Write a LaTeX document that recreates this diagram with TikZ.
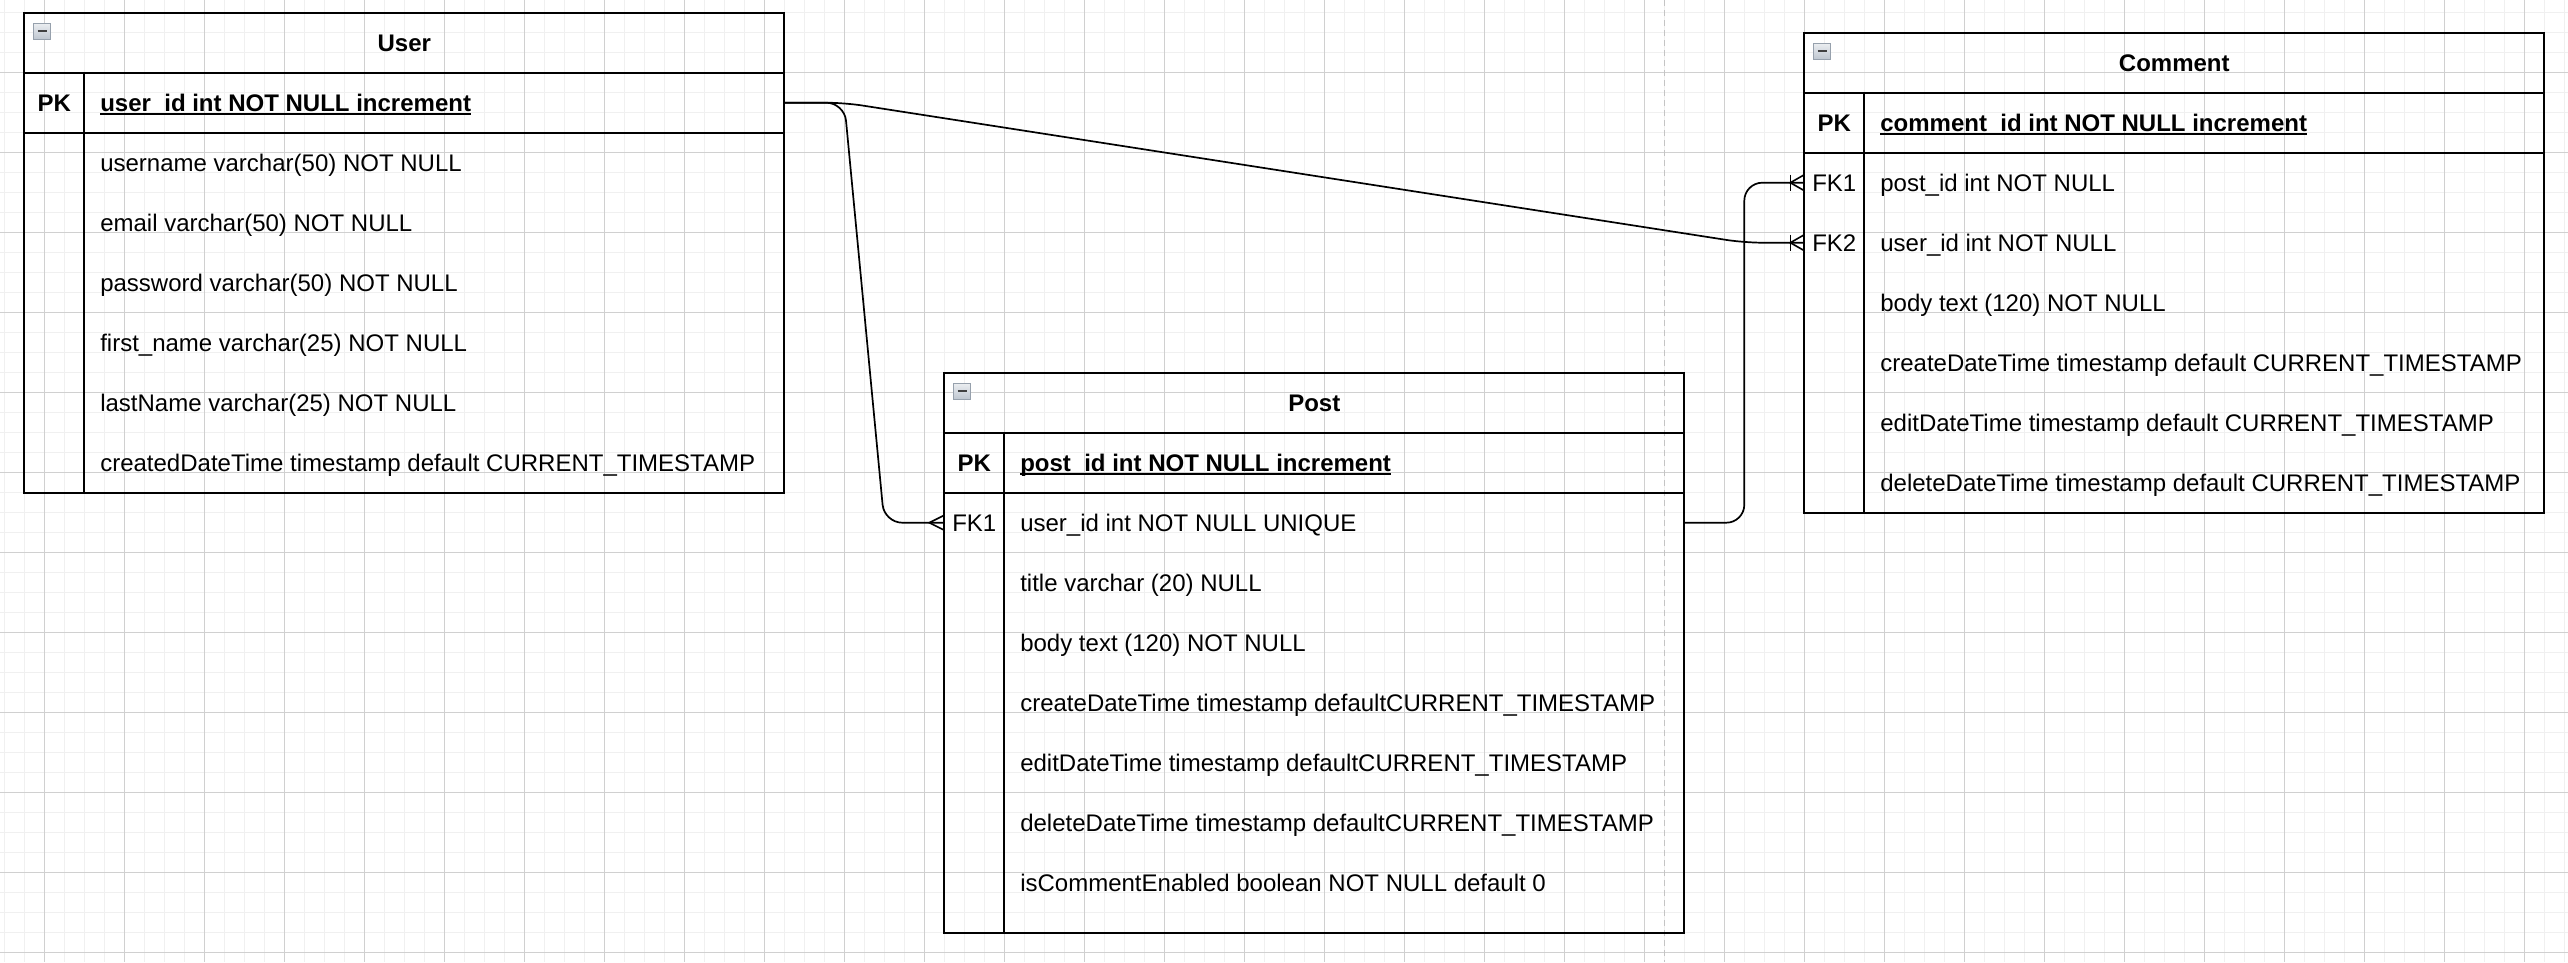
\documentclass[tikz,border=0pt]{standalone}
\usepackage{fontspec}
\setmainfont{Liberation Sans}
\usepackage{xcolor}
\usepackage{tikz}
\usetikzlibrary{positioning, calc}
\definecolor{gridMinor}{RGB}{240, 240, 240}
\definecolor{gridMajor}{RGB}{208, 208, 208}
\definecolor{pageBreak}{RGB}{196, 196, 196}
\definecolor{iconFill}{RGB}{190, 198, 208}
\definecolor{iconEdge}{RGB}{150, 160, 172}
\newcommand{\pkline}[1]{\setbox0\hbox{#1}\rlap{\rule[-3pt]{\wd0}{1.3pt}}\box0}

\begin{document}
\begin{tikzpicture}[
    x=1pt, y=-1pt,
    header/.style={rectangle, draw=black, line width=1.8pt, minimum width=#1, minimum height=60pt, inner sep=0pt, outer sep=0pt, text height=18pt, text depth=0pt, font=\fontsize{24}{28}\selectfont\bfseries},
    field/.style={rectangle, minimum height=60pt, inner xsep=16pt, inner ysep=0pt, outer sep=0pt, text height=18pt, text depth=0pt, font=\fontsize{24}{28}\selectfont},
    pkfield/.style={field, font=\fontsize{24}{28}\selectfont\bfseries},
    key/.style={rectangle, minimum width=60pt, minimum height=60pt, inner sep=0pt, outer sep=0pt, text height=18pt, text depth=0pt, font=\fontsize{24}{28}\selectfont},
    pkkey/.style={key, font=\fontsize{24}{28}\selectfont\bfseries},
    icon/.style={rectangle, minimum width=17pt, minimum height=16pt, inner sep=0pt, draw=iconEdge, line width=0.8pt, top color=iconFill!30, bottom color=iconFill,
        path picture={\draw[line width=2pt, black!75] ([xshift=4pt]path picture bounding box.west) -- ([xshift=-4pt]path picture bounding box.east);}},
    frame/.style={draw=black, line width=1.8pt},
    relation/.style={draw=black, line width=1.7pt, rounded corners=18pt},
    foot/.style={draw=black, line width=1.6pt},
    gridminor/.style={draw=gridMinor, line width=1pt},
    gridmajor/.style={draw=gridMajor, line width=1pt}
]

% Canvas
\fill[white] (0,0) rectangle (2568,962);
\useasboundingbox (0,0) rectangle (2568,962);
\foreach \gx in {4.3,24.3,...,2564.3} \draw[gridminor] (\gx,0) -- (\gx,962);
\foreach \gy in {12.7,32.7,...,952.7} \draw[gridminor] (0,\gy) -- (2568,\gy);
\foreach \gx in {44.3,124.3,...,2524.3} \draw[gridmajor] (\gx,0) -- (\gx,962);
\foreach \gy in {72.7,152.7,...,952.7} \draw[gridmajor] (0,\gy) -- (2568,\gy);
\draw[pageBreak, line width=1.5pt, dash pattern=on 6pt off 4pt] (1664.3,0) -- (1664.3,962);

% User
\node[header=760pt] (user) at (404.3,42.7) {User};
\node[icon, below right=10pt and 9pt of user.north west] (usericon) {};
\node[pkfield, below right=0pt and 60pt of user.south west] (uid) {\pkline{user\_id int NOT NULL increment}};
\node[field, below right=0pt and 0pt of uid.south west] (uname) {username varchar(50) NOT NULL};
\node[field, below right=0pt and 0pt of uname.south west] (uemail) {email varchar(50) NOT NULL};
\node[field, below right=0pt and 0pt of uemail.south west] (upass) {password varchar(50) NOT NULL};
\node[field, below right=0pt and 0pt of upass.south west] (ufirst) {first\_name varchar(25) NOT NULL};
\node[field, below right=0pt and 0pt of ufirst.south west] (ulast) {lastName varchar(25) NOT NULL};
\node[field, below right=0pt and 0pt of ulast.south west] (ucreated) {createdDateTime timestamp default CURRENT\_TIMESTAMP};
\node[pkkey, left=0pt of uid] (upk) {PK};
\draw[frame] (user.south west) rectangle (ucreated.south -| user.east);
\draw[frame] (uid.south -| user.west) -- (uid.south -| user.east);
\draw[frame] (upk.north east) -- (ucreated.south west);

% Post
\node[header=740pt] (post) at (1314.3,402.7) {Post};
\node[icon, below right=10pt and 9pt of post.north west] (posticon) {};
\node[pkfield, below right=0pt and 60pt of post.south west] (pid) {\pkline{post\_id int NOT NULL increment}};
\node[field, below right=0pt and 0pt of pid.south west] (puser) {user\_id int NOT NULL UNIQUE};
\node[field, below right=0pt and 0pt of puser.south west] (ptitle) {title varchar (20) NULL};
\node[field, below right=0pt and 0pt of ptitle.south west] (pbody) {body text (120) NOT NULL};
\node[field, below right=0pt and 0pt of pbody.south west] (pcreate) {createDateTime timestamp defaultCURRENT\_TIMESTAMP};
\node[field, below right=0pt and 0pt of pcreate.south west] (pedit) {editDateTime timestamp defaultCURRENT\_TIMESTAMP};
\node[field, below right=0pt and 0pt of pedit.south west] (pdelete) {deleteDateTime timestamp defaultCURRENT\_TIMESTAMP};
\node[field, below right=0pt and 0pt of pdelete.south west] (pcomment) {isCommentEnabled boolean NOT NULL default 0};
\node[pkkey, left=0pt of pid] (ppk) {PK};
\node[key, left=0pt of puser] (pfk) {FK1};
\draw[frame] (post.south west) rectangle ($(pcomment.south -| post.east)+(0,20)$);
\draw[frame] (pid.south -| post.west) -- (pid.south -| post.east);
\draw[frame] (ppk.north east) -- ($(pcomment.south west)+(0,20)$);

% Comment
\node[header=740pt] (comment) at (2174.3,62.7) {Comment};
\node[icon, below right=10pt and 9pt of comment.north west] (commenticon) {};
\node[pkfield, below right=0pt and 60pt of comment.south west] (cid) {\pkline{comment\_id int NOT NULL increment}};
\node[field, below right=0pt and 0pt of cid.south west] (cpost) {post\_id int NOT NULL};
\node[field, below right=0pt and 0pt of cpost.south west] (cuser) {user\_id int NOT NULL};
\node[field, below right=0pt and 0pt of cuser.south west] (cbody) {body text (120) NOT NULL};
\node[field, below right=0pt and 0pt of cbody.south west] (ccreate) {createDateTime timestamp default CURRENT\_TIMESTAMP};
\node[field, below right=0pt and 0pt of ccreate.south west] (cedit) {editDateTime timestamp default CURRENT\_TIMESTAMP};
\node[field, below right=0pt and 0pt of cedit.south west] (cdelete) {deleteDateTime timestamp default CURRENT\_TIMESTAMP};
\node[pkkey, left=0pt of cid] (cpk) {PK};
\node[key, left=0pt of cpost] (cfk1) {FK1};
\node[key, left=0pt of cuser] (cfk2) {FK2};
\draw[frame] (comment.south west) rectangle (cdelete.south -| comment.east);
\draw[frame] (cid.south -| comment.west) -- (cid.south -| comment.east);
\draw[frame] (cpk.north east) -- (cdelete.south west);

% Relations
\draw[relation] (uid -| user.east) -- ++(60,0) -- ($(pfk.west)+(-60,0)$) -- (pfk.west);
\draw[relation] (uid -| user.east) -- ++(60,0) -- ($(cfk2.west)+(-60,0)$) -- (cfk2.west);
\draw[relation] (puser -| post.east) -- ++(60,0) -- ($(cfk1.west)+(-60,0)$) -- (cfk1.west);

% Crow's feet
\draw[foot] ($(pfk.west)+(0,-7.5)$) -- ($(pfk.west)+(-15,0)$) -- ($(pfk.west)+(0,7.5)$);
\draw[foot] ($(cfk1.west)+(-14,-8)$) -- ++(0,16);
\draw[foot] ($(cfk1.west)+(0,-8)$) -- ($(cfk1.west)+(-14,0)$) -- ($(cfk1.west)+(0,8)$);
\draw[foot] ($(cfk2.west)+(-14,-8)$) -- ++(0,16);
\draw[foot] ($(cfk2.west)+(0,-8)$) -- ($(cfk2.west)+(-14,0)$) -- ($(cfk2.west)+(0,8)$);

\end{tikzpicture}
\end{document}
